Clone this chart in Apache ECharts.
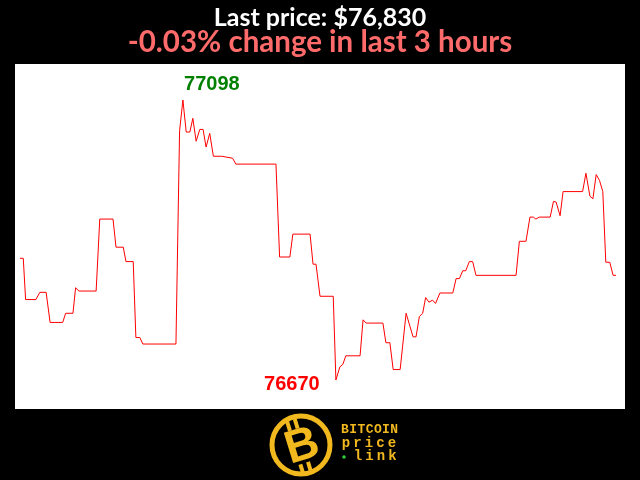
<!DOCTYPE html>
<html>
<head>
<meta charset="utf-8">
<script src="https://cdn.jsdelivr.net/npm/echarts@6/dist/echarts.min.js"></script>
<style>
html,body{margin:0;padding:0;background:#000;}
#chart{width:640px;height:480px;}
</style>
</head>
<body>
<div id="chart"></div>
<script>
// minutes since start of the 3-hour window
var minutes = [0,1.0,1.7,4.8,6.0,7.9,9.1,12.9,13.8,16.0,16.8,17.8,23.0,24.1,28.1,29.0,31.2,32.0,34.2,35.0,
36.2,37.1,47.1,48.2,49.2,50.2,51.3,52.2,53.2,54.3,55.3,56.2,57.3,58.4,60.9,61.4,64.2,65.2,77.3,78.4,
81.5,82.4,87.6,88.5,89.4,90.6,94.6,95.4,96.6,97.5,98.4,102.7,103.6,104.5,109.6,110.5,111.7,112.7,114.8,116.6,
118.7,119.6,120.6,121.6,122.5,123.5,124.6,125.5,126.8,130.7,131.7,132.7,133.7,134.6,135.7,136.7,137.7,149.8,150.8,152.8,
154.0,155.0,155.8,156.8,160.1,161.1,161.9,163.1,164.0,169.9,170.9,172.1,173.0,174.0,175.0,176.0,176.9,178.1,179.1,180.0];
// BTC price (USD)
var prices = [76856,76856,76793,76793,76804,76804,76758,76758,76772,76772,76811,76806,76806,76916,76916,76873,76873,76851,76851,76735,
76735,76725,76725,77051,77098,77049,77049,77070,77035,77053,77053,77026,77047,77012,77012,77009,77009,77000,77000,76858,
76858,76893,76893,76847,76847,76798,76798,76670,76690,76694,76707,76707,76762,76757,76757,76727,76727,76686,76686,76772,
76736,76736,76767,76772,76796,76789,76792,76787,76803,76803,76825,76825,76837,76837,76851,76851,76830,76830,76882,76882,
76919,76919,76916,76919,76919,76943,76942,76921,76958,76958,76986,76951,76947,76984,76975,76958,76850,76850,76830,76830];

var data = minutes.map(function(m,i){return [m, prices[i]];});
var first = prices[0], last = prices[prices.length-1];
var pct = (last-first)/first*100;
var pctText = (pct<0?'-':'+') + Math.abs(pct).toFixed(2) + '% change in last 3 hours';
var lastText = 'Last price: $' + last.toLocaleString('en-US');

var gold = '#f2b91f';

function spacedText(str, x0, step, y, font) {
  var out = [];
  for (var i = 0; i < str.length; i++) {
    out.push({type: 'text', style: {text: str[i], x: x0 + i*step, y: y, textAlign: 'center',
      textVerticalAlign: 'middle', fill: gold, font: font}});
  }
  return out;
}
var logoFont = 'bold 14px "Liberation Mono"';
var graphics = [
  {type: 'circle', shape: {cx: 301, cy: 445, r: 29}, style: {fill: '#000', stroke: gold, lineWidth: 5}},
  {type: 'group', x: 302, y: 446, rotation: 0.3, children: [
    {type: 'rect', shape: {x: -9, y: -28, width: 4, height: 10}, style: {fill: gold}},
    {type: 'rect', shape: {x: -1, y: -28, width: 4, height: 10}, style: {fill: gold}},
    {type: 'rect', shape: {x: -9, y: 17, width: 4, height: 10}, style: {fill: gold}},
    {type: 'rect', shape: {x: -1, y: 17, width: 4, height: 10}, style: {fill: gold}},
    {type: 'text', style: {text: 'B', x: 0, y: 1, textAlign: 'center', textVerticalAlign: 'middle',
      fill: gold, font: 'bold 46px "Liberation Sans"'}}
  ]},
  {type: 'circle', shape: {cx: 344, cy: 457, r: 1.8}, style: {fill: '#2ecc40'}}
].concat(
  spacedText('BITCOIN', 345, 8.2, 430, 'bold 13px "Liberation Mono"'),
  spacedText('price', 346, 11.5, 443, logoFont),
  spacedText('link', 358, 11.5, 456, logoFont)
);

var chart = echarts.init(document.getElementById('chart'));
chart.setOption({
  backgroundColor: '#000',
  animation: false,
  title: [
    {text: lastText, left: 'center', top: 0,
     textStyle: {color: '#fff', fontFamily: 'Lato', fontWeight: 'bold', fontSize: 25}},
    {text: pctText, left: 'center', top: 22,
     textStyle: {color: '#ff6b6b', fontFamily: 'Lato', fontWeight: 'bold', fontSize: 29.5}}
  ],
  grid: {left: 15, right: 15, top: 64, bottom: 71, show: true, backgroundColor: '#fff', borderWidth: 0},
  xAxis: {type: 'value', min: -1.5, max: 182.7, show: false},
  yAxis: {type: 'value', min: 76625.7, max: 77153, show: false},
  series: [{
    type: 'line',
    data: data,
    showSymbol: false,
    symbol: 'none',
    lineStyle: {color: '#ff0000', width: 1},
    markPoint: {
      symbol: 'circle', symbolSize: 1,
      itemStyle: {color: 'rgba(0,0,0,0)'},
      data: [
        {type: 'max', label: {show: true, formatter: function(p){return p.value;}, offset: [29,-16],
          color: '#008000', fontFamily: 'Liberation Sans', fontWeight: 'bold', fontSize: 20}},
        {type: 'min', label: {show: true, formatter: function(p){return p.value;}, offset: [-44,4],
          color: '#ff0000', fontFamily: 'Liberation Sans', fontWeight: 'bold', fontSize: 20}}
      ]
    }
  }],
  graphic: graphics
});
</script>
</body>
</html>
